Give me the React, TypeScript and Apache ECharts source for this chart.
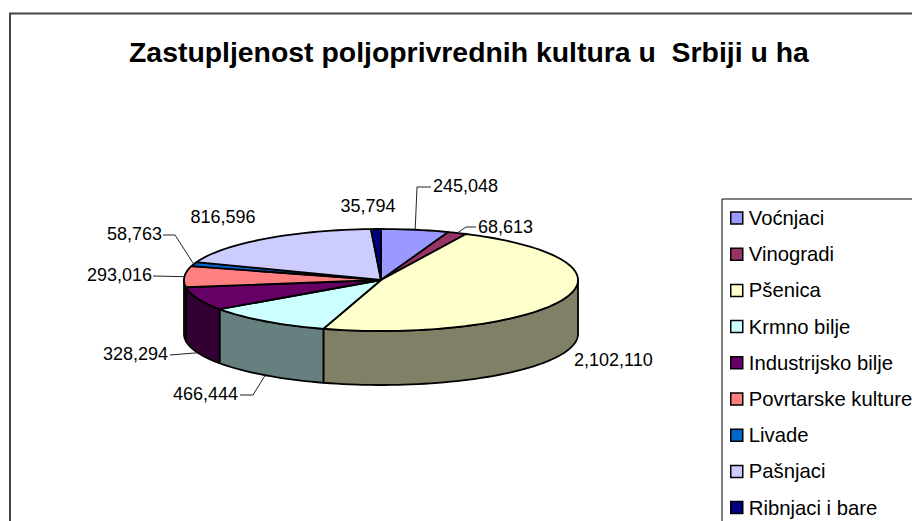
import React, { useEffect, useRef } from "react";
import * as echarts from "echarts";

const categories = ["Voćnjaci", "Vinogradi", "Pšenica", "Krmno bilje", "Industrijsko bilje", "Povrtarske kulture", "Livade", "Pašnjaci", "Ribnjaci i bare"];
const hectares = [245048, 68613, 2102110, 466444, 328294, 293016, 58763, 816596, 35794];
const labelTexts = ["245,048", "68,613", "2,102,110", "466,444", "328,294", "293,016", "58,763", "816,596", "35,794"];
const topColors = ["#9999FF", "#993366", "#FFFFCC", "#CCFFFF", "#660066", "#FF8080", "#0066CC", "#CCCCFF", "#000080"];
const wallColors = ["#4D4D80", "#4D1A33", "#808066", "#668080", "#330033", "#804040", "#003366", "#666680", "#000040"];
const titleText = "Zastupljenost poljoprivrednih kultura u  Srbiji u ha";

// Layout of the tilted disc and of the data labels
const CX = 381, CY = 280, RX = 197, RY = 51, DEPTH = 54;
const labelLayout: any[] = [
  { x: 433, y: 186, align: "left", leader: [[417, 187], [431, 187]] },
  { x: 478, y: 227, align: "left", leader: [[466, 227], [476, 227]] },
  { x: 574, y: 360, align: "left", leader: null },
  { x: 238, y: 394, align: "right", leader: [[253, 395], [240, 395]] },
  { x: 168, y: 354, align: "right", leader: [[170, 355]] },
  { x: 152, y: 275, align: "right", leader: [[153, 276]] },
  { x: 162, y: 234, align: "right", leader: [[175, 235], [163, 235]] },
  { x: 223, y: 217, align: "center", leader: null },
  { x: 368, y: 206, align: "center", leader: null },
];

const total = hectares.reduce((a, b) => a + b, 0);
const rim = (deg: number, dy = 0) => {
  const r = (deg * Math.PI) / 180;
  return [CX + RX * Math.sin(r), CY - RY * Math.cos(r) + dy];
};
const arc = (a: number, b: number, dy = 0) => {
  const pts: number[][] = [];
  const n = Math.max(2, Math.ceil(Math.abs(b - a) / 2));
  for (let i = 0; i <= n; i++) pts.push(rim(a + ((b - a) * i) / n, dy));
  return pts;
};

const renderSlice = (params: any, api: any) => {
  const i = params.seriesIndex;
  const before = hectares.slice(0, i).reduce((a, b) => a + b, 0);
  const a = (before / total) * 360;
  const b = a + (api.value(0) / total) * 360;
  const children: any[] = [];
  const wa = Math.max(a, 90), wb = Math.min(b, 270);
  const edge = { stroke: "#000", lineWidth: 1.8, lineJoin: "round" };
  if (wb > wa) {
    children.push({
      type: "polygon",
      shape: { points: [...arc(wa, wb), ...arc(wb, wa, DEPTH)] },
      style: { fill: wallColors[i], ...edge },
    });
  }
  children.push({
    type: "polygon",
    shape: { points: [[CX, CY], ...arc(a, b)] },
    style: { fill: topColors[i], ...edge },
  });
  const spot = labelLayout[i];
  if (spot.leader) {
    const mid = (a + b) / 2;
    const front = mid > 90 && mid < 270;
    children.push({
      type: "polyline",
      shape: { points: [rim(mid, front ? DEPTH : 0), ...spot.leader] },
      style: { fill: "none", stroke: "#222", lineWidth: 1 },
    });
  }
  children.push({
    type: "text",
    style: {
      text: labelTexts[i],
      x: spot.x,
      y: spot.y,
      textAlign: spot.align,
      textVerticalAlign: "middle",
      fill: "#000",
      font: "18px 'Liberation Sans'",
    },
  });
  return { type: "group", children };
};

export default function App() {
  const ref = useRef<HTMLDivElement>(null);
  useEffect(() => {
    document.body.style.margin = "0";
    const chart = echarts.init(ref.current!, null, { renderer: "svg" });
    chart.setOption({
      animation: false,
      backgroundColor: "#fff",
      title: {
        text: titleText,
        left: 129,
        top: 38,
        padding: 0,
        textStyle: { fontFamily: "'Liberation Sans'", fontSize: 28.4, fontWeight: "bold", color: "#000" },
      },
      legend: {
        orient: "vertical",
        left: 722,
        top: 199,
        height: 900,
        padding: [9, 20, 30, 8],
        itemGap: 16.2,
        itemWidth: 12,
        itemHeight: 12,
        icon: "rect",
        data: categories,
        borderColor: "#000",
        borderWidth: 1,
        selectedMode: false,
        itemStyle: { borderColor: "#000", borderWidth: 1.5 },
        textStyle: { fontFamily: "'Liberation Sans'", fontSize: 20.3, color: "#000", padding: [0, 0, 0, 1] },
      },
      graphic: [
        {
          type: "polyline",
          silent: true,
          z: -1,
          shape: { points: [[10, 530], [10, 13.5], [920, 13.5]] },
          style: { fill: "none", stroke: "#444", lineWidth: 2 },
        },
      ],
      series: categories.map((name, i) => ({
        type: "custom",
        name,
        coordinateSystem: "none",
        silent: true,
        itemStyle: { color: topColors[i] },
        data: [[hectares[i]]],
        renderItem: renderSlice,
      })),
    });
    return () => chart.dispose();
  }, []);
  return <div ref={ref} style={{ width: 912, height: 521 }} />;
}
